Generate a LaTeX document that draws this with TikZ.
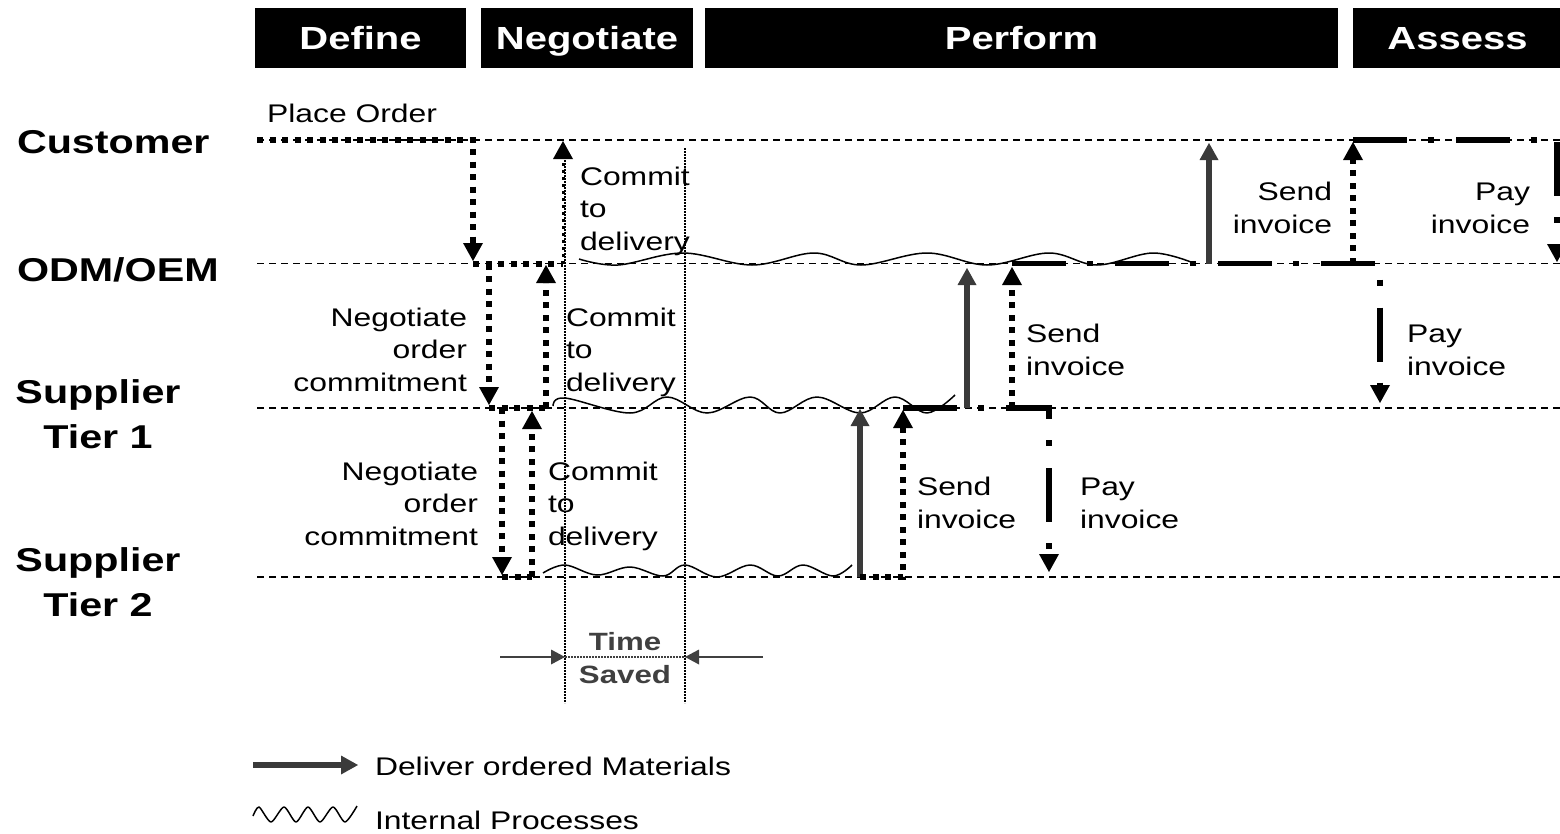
\documentclass[tikz,border=0pt]{standalone}
\usepackage{fontspec}
\setmainfont{Liberation Sans}[FakeStretch=1.25]
\usetikzlibrary{arrows.meta}
\definecolor{delivgray}{HTML}{3A3A3A}
\definecolor{savedgray}{HTML}{404040}
\newcommand\diaglbl{\fontsize{25.5}{32.5}\selectfont}
\newcommand\diagrow{\bfseries\fontsize{33}{45}\selectfont}
\begin{document}
\begin{tikzpicture}[x=1pt,y=-1pt,
  every node/.style={inner sep=0pt, outer sep=0pt},
  phase/.style={fill=black, text=white, font=\bfseries\fontsize{32}{38}\selectfont,
    minimum height=60pt, text height=23pt, text depth=0pt, anchor=center},
  lane/.style={line width=1.4pt, dash pattern=on 7pt off 5pt},
  guide/.style={line width=1.2pt, dash pattern=on 1.6pt off 1.4pt},
  msg/.style={line width=6pt, dash pattern=on 6pt off 6.5pt},
  msgthin/.style={line width=3pt, dash pattern=on 3pt off 4pt},
  pay/.style={line width=5.5pt, dash pattern=on 54pt off 21pt on 6pt off 22pt},
  deliver/.style={draw=delivgray, line width=6pt},
  tipk/.style={-{Triangle[width=20pt,length=18pt,line width=0pt]}},
  tipg/.style={-{Triangle[width=19pt,length=17pt,line width=0pt]}},
  proc/.style={line width=1.5pt, line join=round},
  txt/.style={font=\diaglbl},
  rowname/.style={font=\diagrow},
]
\useasboundingbox (0,0) rectangle (1560,833);

% ---------- phase headers ----------
\node[phase, minimum width=211pt] (hdDefine) at (360.5,38) {Define};
\node[phase, minimum width=212pt] (hdNeg) at (587,38) {Negotiate};
\node[phase, minimum width=633pt] (hdPerf) at (1021.5,38) {Perform};
\node[phase, minimum width=209pt] (hdAssess) at (1457.5,38) {Assess};

% ---------- row names (multi-line nodes sit on their last baseline) ----------
\node[rowname, anchor=base west] (rCust) at (17,153) {Customer};
\node[rowname, anchor=base west] (rOdm) at (17,281) {ODM/OEM};
\node[rowname, anchor=base, align=center] (rT1) at (98,448) {Supplier\\Tier 1};
\node[rowname, anchor=base, align=center] (rT2) at (98,616) {Supplier\\Tier 2};

% ---------- swim lanes ----------
\coordinate (cL) at (257,140);   \coordinate (cR) at (1560,140);
\coordinate (oL) at (257,263.5); \coordinate (oR) at (1560,263.5);
\coordinate (aL) at (257,408);   \coordinate (aR) at (1560,408);
\coordinate (bL) at (257,577);   \coordinate (bR) at (1560,577);
\draw[lane] (cL) -- (cR);
\draw[lane] (oL) -- (oR);
\draw[lane] (aL) -- (aR);
\draw[lane] (bL) -- (bR);

% ---------- time saved guides ----------
\coordinate (g1t) at (565,148); \coordinate (g1b) at (565,703);
\coordinate (g2t) at (685,148); \coordinate (g2b) at (685,703);
\draw[guide] (g1t) -- (g1b);
\draw[guide] (g2t) -- (g2b);
\coordinate (tsL) at (500,657); \coordinate (tsA) at (565,657);
\coordinate (tsB) at (685,657); \coordinate (tsR) at (763,657);
\draw[draw=savedgray, line width=2pt, -{Triangle[width=15pt,length=14pt,line width=0pt]}] (tsL) -- (tsA);
\draw[draw=savedgray, line width=2pt, -{Triangle[width=15pt,length=14pt,line width=0pt]}] (tsR) -- (tsB);
\draw[guide, draw=savedgray] (tsA) -- (tsB);
\node[font=\bfseries\fontsize{25}{33}\selectfont, text=savedgray, anchor=base] (tsTime) at (625,650) {Time};
\node[font=\bfseries\fontsize{25}{33}\selectfont, text=savedgray, anchor=base] (tsSaved) at (625,683) {Saved};

% ---------- internal processes ----------
\draw[proc] plot[smooth, tension=0.6] coordinates {(579,259) (618,265) (683,253) (752,265) (814,253) (861,265) (927,253) (987,265) (1049,253) (1097,265) (1153,253) (1196,264)};
\draw[proc] plot[smooth, tension=0.6] coordinates {(553,406) (565,398) (630,413) (667,397) (707,413) (750,397) (780,413) (817,397) (860,413) (895,397) (927,413) (955,395)};
\draw[proc] plot[smooth, tension=0.6] coordinates {(543,573) (565,565) (597,575) (630,567) (663,576) (685,565) (717,577) (750,565) (778,576) (803,565) (833,576) (852,565)};

% ---------- define / negotiate ----------
\coordinate (po0) at (257,140); \coordinate (po1) at (473,140); \coordinate (po2) at (473,261);
\draw[msg, tipk] (po0) -- (po1) -- (po2);
\coordinate (oc0) at (473,263.5); \coordinate (oc1) at (563,263.5); \coordinate (oc2) at (563,141);
\draw[msg] (oc0) -- (oc1);
\draw[msgthin, tipk] (oc1) -- (oc2);

\coordinate (n1a) at (489,263.5); \coordinate (n1b) at (489,405);
\draw[msg, tipk] (n1a) -- (n1b);
\coordinate (k1a) at (489,408); \coordinate (k1b) at (546,408); \coordinate (k1c) at (546,265);
\draw[msg] (k1a) -- (k1b);
\draw[msg, tipk] (k1b) -- (k1c);

\coordinate (n2a) at (502,408); \coordinate (n2b) at (502,575);
\draw[msg, tipk] (n2a) -- (n2b);
\coordinate (k2a) at (502,577); \coordinate (k2b) at (532,577); \coordinate (k2c) at (532,411);
\draw[msg] (k2a) -- (k2b);
\draw[msg, tipk] (k2b) -- (k2c);

% ---------- perform: deliveries ----------
\coordinate (d1a) at (860,577); \coordinate (d1b) at (860,409);
\coordinate (d2a) at (967,408); \coordinate (d2b) at (967,268);
\coordinate (d3a) at (1209,263.5); \coordinate (d3b) at (1209,143);
\draw[deliver, tipg] (d1a) -- (d1b);
\draw[deliver, tipg] (d2a) -- (d2b);
\draw[deliver, tipg] (d3a) -- (d3b);

% ---------- perform / assess: invoices ----------
\coordinate (s1a) at (860,577); \coordinate (s1b) at (903,577); \coordinate (s1c) at (903,410);
\draw[msg, tipk] (s1a) -- (s1b) -- (s1c);
\coordinate (s2a) at (1012,408); \coordinate (s2b) at (1012,267);
\draw[msg, tipk] (s2a) -- (s2b);
\coordinate (s3a) at (1353,263.5); \coordinate (s3b) at (1353,142);
\draw[msg, tipk] (s3a) -- (s3b);

% ---------- payments ----------
\coordinate (p1a) at (903,408); \coordinate (p1b) at (1049,408); \coordinate (p1c) at (1049,572);
\draw[pay, tipk] (p1a) -- (p1b) -- (p1c);
\coordinate (p2a) at (1012,263.5); \coordinate (p2b) at (1380,263.5); \coordinate (p2c) at (1380,403);
\draw[pay, tipk] (p2a) -- (p2b) -- (p2c);
\coordinate (p3a) at (1353,140); \coordinate (p3b) at (1557,140); \coordinate (p3c) at (1557,262);
\draw[pay, tipk] (p3a) -- (p3b) -- (p3c);

% ---------- message labels (anchored on the last line's baseline) ----------
\node[txt, anchor=base west] (lPlace) at (267,122) {Place Order};
\node[txt, anchor=base west, align=left] (lCommit1) at (580,250) {Commit\\to\\delivery};
\node[txt, anchor=base east, align=right] (lNeg1) at (467,391) {Negotiate\\order\\commitment};
\node[txt, anchor=base west, align=left] (lCommit2) at (566,391) {Commit\\to\\delivery};
\node[txt, anchor=base east, align=right] (lNeg2) at (478,545) {Negotiate\\order\\commitment};
\node[txt, anchor=base west, align=left] (lCommit3) at (548,545) {Commit\\to\\delivery};
\node[txt, anchor=base west, align=left] (lSend1) at (917,528) {Send\\invoice};
\node[txt, anchor=base west, align=left] (lPay1) at (1080,528) {Pay\\invoice};
\node[txt, anchor=base west, align=left] (lSend2) at (1026,375) {Send\\invoice};
\node[txt, anchor=base west, align=left] (lPay2) at (1407,375) {Pay\\invoice};
\node[txt, anchor=base east, align=right] (lSend3) at (1332,233) {Send\\invoice};
\node[txt, anchor=base east, align=right] (lPay3) at (1530,233) {Pay\\invoice};

% ---------- legend ----------
\coordinate (lgA) at (253,765); \coordinate (lgB) at (358,765);
\draw[deliver, tipg] (lgA) -- (lgB);
\node[txt, anchor=base west] (lgDeliver) at (375,775) {Deliver ordered Materials};
\draw[proc] plot[smooth, tension=0.45] coordinates {(253,816) (259,807) (271,822) (284,807) (296,822) (308,807) (320,822) (333,807) (345,822) (357,806)};
\node[txt, anchor=base west] (lgProc) at (375,829) {Internal Processes};
\end{tikzpicture}
\end{document}
